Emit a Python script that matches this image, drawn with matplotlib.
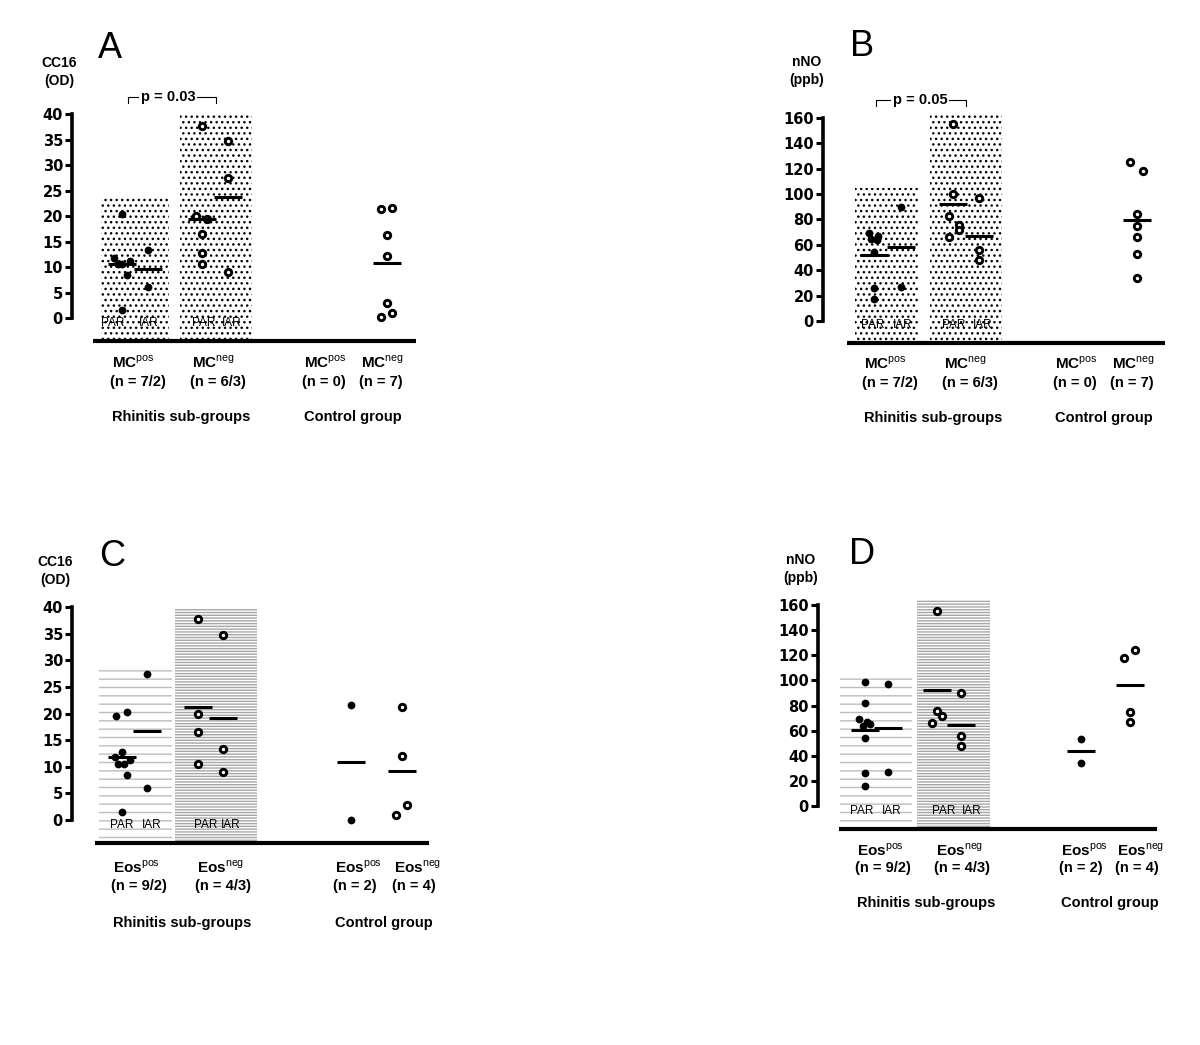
import numpy as np
import matplotlib
matplotlib.use('Agg')
import matplotlib.pyplot as plt
from matplotlib.patches import Rectangle

plt.rcParams['font.family'] = ['Liberation Sans', 'DejaVu Sans']
plt.rcParams['mathtext.fontset'] = 'custom'
plt.rcParams['mathtext.rm'] = 'Liberation Sans'
plt.rcParams['mathtext.bf'] = 'Liberation Sans:bold'
plt.rcParams['hatch.linewidth'] = 1.0

W, H = 1200, 1045

# ---- values ----
# A: CC16 (OD), mast cell sub-groups
a_mcpos_par = [20.3, 11.7, 10.5, 10.5, 11.2, 8.5, 1.5]
a_mcpos_iar = [13.4, 6.0]
a_mcneg_par = [37.7, 20.0, 19.5, 16.5, 12.7, 10.5]
a_mcneg_iar = [34.8, 27.5, 9.0]
a_ctrl_neg = [21.4, 21.6, 16.2, 12.1, 3.0, 0.2, 1.0]

# B: nNO (ppb), mast cell sub-groups
b_mcpos_par = [69, 67, 65, 64, 54, 26, 17]
b_mcpos_iar = [90, 27]
b_mcneg_par = [155, 100, 83, 76, 72, 66]
b_mcneg_iar = [97, 56, 48]
b_ctrl_neg = [125, 118, 84, 75, 66, 53, 34]

# C: CC16 (OD), eosinophil sub-groups
c_eospos_par = [19.5, 20.3, 12.7, 11.8, 10.5, 10.5, 11.2, 8.5, 1.5]
c_eospos_iar = [27.5, 6.0]
c_eosneg_par = [37.7, 20.0, 16.5, 10.5]
c_eosneg_iar = [34.8, 13.4, 9.0]
c_ctrl_pos = [21.6, 0.0]
c_ctrl_neg = [21.3, 12.0, 2.8, 1.0]

# D: nNO (ppb), eosinophil sub-groups
d_eospos_par = [99, 82, 69, 67, 65, 64, 54, 26, 16]
d_eospos_iar = [97, 27]
d_eosneg_par = [155, 76, 72, 66]
d_eosneg_iar = [90, 56, 48]
d_ctrl_pos = [53, 34]
d_ctrl_neg = [124, 118, 75, 67]

# box heights behind the rhinitis groups
a_box_tops = [23.5, 40]
b_box_tops = [105, 162]
c_box_tops = [28.7, 39.6]
d_box_tops = [103, 164]

mc_names = [r'$\mathbf{MC}^{\mathrm{pos}}$', r'$\mathbf{MC}^{\mathrm{neg}}$'] * 2
eos_names = [r'$\mathbf{Eos}^{\mathrm{pos}}$', r'$\mathbf{Eos}^{\mathrm{neg}}$'] * 2
mc_counts = ['(n = 7/2)', '(n = 6/3)', '(n = 0)', '(n = 7)']
eos_counts = ['(n = 9/2)', '(n = 4/3)', '(n = 2)', '(n = 4)']
sub_names = ['PAR', 'IAR', 'PAR', 'IAR']

# small horizontal offsets so overlapping points stay visible (pixels)
a_jit = [[0, -8, -4, 0, 8, 5, 0], [0, 0], [0, -6, 5, 0, 0, 0], [0, 0, 0], [-6, 5, 0, 0, 0, -6, 5]]
b_jit = [[-5, 4, -3, 3, 0, 0, 0], [0, 0], [0, 0, -4, 6, 6, -4], [0, 0, 0], [-7, 6, 0, 0, 0, 0, 0]]
c_jit = [[-6, 5, 0, -7, -4, 2, 8, 5, 0], [0, 0], [0, 0, 0, 0], [0, 0, 0], [0, 0], [0, 0, 5, -6]]
d_jit = [[0, 0, -6, 2, 5, -2, 0, 0, 0], [0, 0], [0, 0, 5, -5], [0, 0, 0], [0, 0], [5, -6, 0, 0]]


def fx(px):
    return px / W


def fy(py):
    return 1 - py / H


def draw_panel(fig, p):
    x0, y0, sc, base = p['axis_x'], p['zero_y'], p['scale'], p['base_y']
    top_px = y0 - p['ymax'] * sc - 60
    ax = fig.add_axes([fx(x0), fy(base + 4), 370 / W, (base + 4 - top_px) / H])
    ax.set_xlim(0, 370)
    ax.set_ylim((y0 - base - 4) / sc, (y0 - top_px) / sc)
    ax.patch.set_alpha(0)
    ybase = (y0 - base) / sc

    # shaded boxes
    for (l, r), top, st in zip(p['boxes'], p['box_tops'], p['box_style']):
        ax.add_patch(Rectangle((l, ybase), r - l, top - ybase, facecolor='white',
                               edgecolor=st[0], hatch=st[1], linewidth=0, zorder=1))

    # baseline
    ax.plot(p['base_x'], [ybase, ybase], color='black', lw=3, solid_capstyle='butt',
            clip_on=False, zorder=3)

    for s in ['top', 'right', 'bottom']:
        ax.spines[s].set_visible(False)
    ax.spines['left'].set_linewidth(2.6)
    ax.spines['left'].set_bounds(0, p['ymax'])
    ax.set_yticks(np.arange(0, p['ymax'] + 1, p['step']))
    ax.set_xticks([])
    ax.tick_params(axis='y', direction='out', length=5, width=2.2, pad=1.5)
    for t in ax.get_yticklabels():
        t.set_fontfamily('DejaVu Sans')
        t.set_fontweight('bold')
        t.set_fontsize(10.5)

    # points and group means
    for vals, jit, c, filled in zip(p['groups'], p['jit'], p['centers'], p['filled']):
        xs = c + np.array(jit, dtype=float)
        if filled:
            ax.plot(xs, vals, 'o', ms=5.6, mfc='black', mec='black', mew=0, zorder=4, clip_on=False)
        else:
            ax.plot(xs, vals, 'o', ms=4.6, mfc='white', mec='black', mew=2.1, zorder=4, clip_on=False)
        m = np.mean(vals)
        ax.plot([c - 14, c + 14], [m, m], color='black', lw=2.2, solid_capstyle='butt', zorder=5)

    # PAR / IAR labels inside the boxes
    for sx, lab in zip(p['sub_x'], sub_names):
        ax.text(sx, -4.5 / sc, lab, ha='center', va='center', fontsize=8.5, zorder=2)

    # p-value bracket
    if p.get('pval'):
        yb, (bl, br), tc, txt = p['pval']
        d = 6 / sc
        ax.plot([bl, bl, br, br], [yb - d, yb, yb, yb - d], color='black', lw=0.8, clip_on=False)
        ax.text(tc, yb, txt, ha='center', va='center', fontsize=10.5, fontweight='bold',
                bbox=dict(facecolor='white', edgecolor='none', pad=1.5))

    # category labels below the baseline
    for lx, nm, cnt in zip(p['lab_x'], p['names'], p['counts']):
        fig.text(fx(x0 + lx), fy(base + p['rows'][0]), nm, ha='left', va='center', fontsize=11)
        fig.text(fx(x0 + lx - 2), fy(base + p['rows'][1]), cnt, ha='left', va='center',
                 fontsize=10.5, fontweight='bold')
    for lx, txt in zip(p['grp_x'], ['Rhinitis sub-groups', 'Control group']):
        fig.text(fx(x0 + lx), fy(base + p['rows'][2]), txt, ha='left', va='center',
                 fontsize=10.5, fontweight='bold')

    # panel letter and y label
    lx, ly = p['letter_pos']
    fig.text(fx(x0 + lx), fy(ly), p['letter'], ha='center', va='center', fontsize=26)
    yx, yy = p['ylab_pos']
    fig.text(fx(x0 + yx), fy(yy), p['ylabel'], ha='center', va='center', fontsize=10,
             fontweight='bold', linespacing=1.45)
    return ax


dots = ('black', '...')
sparse = ('#bdbdbd', '--')
dense = ('#a6a6a6', '------')

panels = [
    dict(letter='A', ylabel='CC16\n(OD)', axis_x=72, zero_y=318, scale=5.1, ymax=40, step=5,
         base_y=341, base_x=[21, 344], boxes=[(29, 97), (108, 180)], box_tops=a_box_tops,
         box_style=[dots, dots],
         groups=[a_mcpos_par, a_mcpos_iar, a_mcneg_par, a_mcneg_iar, a_ctrl_neg], jit=a_jit,
         centers=[50, 76, 130, 156, 315], filled=[True, True, False, False, False],
         sub_x=[41, 77, 132, 160],
         pval=(43.3, (56, 144), 96, 'p = 0.03'),
         lab_x=[40, 120, 232, 289], names=mc_names, counts=mc_counts, rows=[21, 41, 76],
         grp_x=[40, 232], letter_pos=(38, 48), ylab_pos=(-13, 72)),
    dict(letter='B', ylabel='nNO\n(ppb)', axis_x=823, zero_y=321, scale=1.269, ymax=160, step=20,
         base_y=343, base_x=[24, 342], boxes=[(32, 95), (107, 179)], box_tops=b_box_tops,
         box_style=[dots, dots],
         groups=[b_mcpos_par, b_mcpos_iar, b_mcneg_par, b_mcneg_iar, b_ctrl_neg], jit=b_jit,
         centers=[51, 78, 130, 156, 314], filled=[True, True, False, False, False],
         sub_x=[50, 80, 131, 160],
         pval=(174, (53, 143), 97, 'p = 0.05'),
         lab_x=[41, 121, 232, 289], names=mc_names, counts=mc_counts, rows=[20, 40, 75],
         grp_x=[41, 232], letter_pos=(39, 47), ylab_pos=(-16, 71)),
    dict(letter='C', ylabel='CC16\n(OD)', axis_x=72, zero_y=820, scale=5.325, ymax=40, step=5,
         base_y=843, base_x=[23, 357], boxes=[(27, 100), (103, 185)], box_tops=c_box_tops,
         box_style=[sparse, dense],
         groups=[c_eospos_par, c_eospos_iar, c_eosneg_par, c_eosneg_iar, c_ctrl_pos, c_ctrl_neg],
         jit=c_jit, centers=[50, 75, 126, 151, 279, 330],
         filled=[True, True, False, False, True, False],
         sub_x=[50, 80, 134, 159],
         lab_x=[41, 125, 263, 322], names=eos_names, counts=eos_counts, rows=[24, 43, 80],
         grp_x=[41, 263], letter_pos=(40, 557), ylab_pos=(-17, 571)),
    dict(letter='D', ylabel='nNO\n(ppb)', axis_x=818, zero_y=806, scale=1.256, ymax=160, step=20,
         base_y=829, base_x=[21, 339], boxes=[(22, 94), (99, 172)], box_tops=d_box_tops,
         box_style=[sparse, dense],
         groups=[d_eospos_par, d_eospos_iar, d_eosneg_par, d_eosneg_iar, d_ctrl_pos, d_ctrl_neg],
         jit=d_jit, centers=[47, 70, 119, 143, 263, 312],
         filled=[True, True, False, False, True, False],
         sub_x=[44, 74, 126, 154],
         lab_x=[39, 118, 243, 299], names=eos_names, counts=eos_counts, rows=[21, 39, 74],
         grp_x=[39, 243], letter_pos=(44, 555), ylab_pos=(-17, 569)),
]

fig = plt.figure(figsize=(W / 100, H / 100), dpi=100)
for p in panels:
    draw_panel(fig, p)

fig.savefig('out.png', dpi=100, facecolor='white')
